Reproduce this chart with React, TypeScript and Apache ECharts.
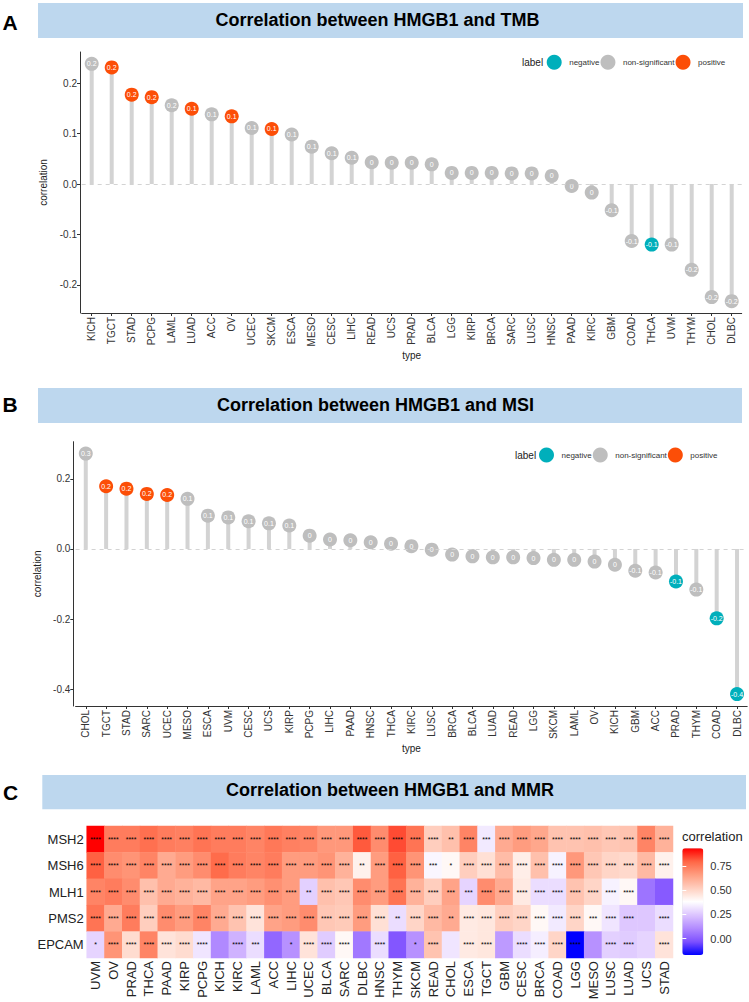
import React, { useEffect, useRef } from 'react';
import * as echarts from 'echarts';

// ---------- Panel A: HMGB1 vs TMB ----------
const tmbTypes = ['KICH','TGCT','STAD','PCPG','LAML','LUAD','ACC','OV','UCEC','SKCM','ESCA','MESO','CESC','LIHC','READ','UCS','PRAD','BLCA','LGG','KIRP','BRCA','SARC','LUSC','HNSC','PAAD','KIRC','GBM','COAD','THCA','UVM','THYM','CHOL','DLBC'];
const tmbValues = [0.238,0.231,0.177,0.172,0.156,0.149,0.138,0.134,0.111,0.109,0.098,0.074,0.061,0.052,0.043,0.042,0.042,0.039,0.022,0.022,0.022,0.021,0.021,0.016,-0.004,-0.017,-0.052,-0.113,-0.12,-0.12,-0.17,-0.224,-0.232];
const tmbGroups = ['non-significant','positive','positive','positive','non-significant','positive','non-significant','positive','non-significant','positive','non-significant','non-significant','non-significant','non-significant','non-significant','non-significant','non-significant','non-significant','non-significant','non-significant','non-significant','non-significant','non-significant','non-significant','non-significant','non-significant','non-significant','non-significant','negative','non-significant','non-significant','non-significant','non-significant'];
const tmbTicks = [-0.2, -0.1, 0, 0.1, 0.2];

// ---------- Panel B: HMGB1 vs MSI ----------
const msiTypes = ['CHOL','TGCT','STAD','SARC','UCEC','MESO','ESCA','UVM','CESC','UCS','KIRP','PCPG','LIHC','PAAD','HNSC','THCA','KIRC','LUSC','BRCA','BLCA','LUAD','READ','LGG','SKCM','LAML','OV','KICH','GBM','ACC','PRAD','THYM','COAD','DLBC'];
const msiValues = [0.272,0.179,0.172,0.157,0.154,0.143,0.095,0.09,0.079,0.073,0.067,0.038,0.027,0.025,0.019,0.015,0.008,-0.002,-0.016,-0.021,-0.024,-0.024,-0.026,-0.031,-0.031,-0.036,-0.045,-0.062,-0.067,-0.093,-0.116,-0.198,-0.414];
const msiGroups = ['non-significant','positive','positive','positive','positive','non-significant','non-significant','non-significant','non-significant','non-significant','non-significant','non-significant','non-significant','non-significant','non-significant','non-significant','non-significant','non-significant','non-significant','non-significant','non-significant','non-significant','non-significant','non-significant','non-significant','non-significant','non-significant','non-significant','non-significant','negative','non-significant','negative','negative'];
const msiTicks = [-0.4, -0.2, 0, 0.2];

const groupNames = ['negative', 'non-significant', 'positive'];
const groupColors: Record<string, string> = { negative: '#00AFBB', 'non-significant': '#BEBEBE', positive: '#FC4E07' };

// ---------- Panel C: HMGB1 vs MMR ----------
const mmrCancers = ['UVM','OV','PRAD','THCA','PAAD','KIRP','PCPG','KICH','KIRC','LAML','ACC','LIHC','UCEC','BLCA','SARC','DLBC','HNSC','THYM','SKCM','READ','CHOL','ESCA','TGCT','GBM','CESC','BRCA','COAD','LGG','MESO','LUSC','LUAD','UCS','STAD'];
const mmrGenes = ['MSH2', 'MSH6', 'MLH1', 'PMS2', 'EPCAM'];
const msh2Corr = [0.93,0.74,0.74,0.77,0.74,0.73,0.76,0.74,0.74,0.72,0.75,0.73,0.72,0.67,0.67,0.81,0.70,0.83,0.76,0.52,0.56,0.72,0.33,0.62,0.66,0.63,0.55,0.55,0.56,0.54,0.55,0.72,0.60];
const msh6Corr = [0.80,0.70,0.68,0.72,0.62,0.66,0.70,0.78,0.74,0.72,0.74,0.66,0.66,0.68,0.60,0.42,0.66,0.80,0.68,0.36,0.40,0.52,0.47,0.57,0.43,0.56,0.35,0.67,0.54,0.50,0.49,0.58,0.42];
const mlh1Corr = [0.72,0.74,0.70,0.56,0.62,0.60,0.58,0.64,0.64,0.66,0.69,0.66,0.27,0.56,0.54,0.70,0.66,0.76,0.60,0.52,0.64,0.28,0.70,0.62,0.44,0.30,0.30,0.55,0.50,0.35,0.40,0.05,-0.01];
const pms2Corr = [0.76,0.62,0.74,0.52,0.70,0.66,0.72,0.62,0.55,0.46,0.64,0.66,0.70,0.54,0.53,0.66,0.47,0.30,0.50,0.58,0.62,0.44,0.45,0.52,0.50,0.40,0.33,0.50,0.40,0.32,0.25,0.25,0.30];
const epcamCorr = [0.28,0.68,0.48,0.72,0.46,0.48,0.32,0.10,0.20,0.30,0.02,0.12,0.46,0.26,0.40,0.06,0.30,-0.02,0.12,0.55,0.32,0.44,0.45,0.14,0.30,0.34,0.50,-0.17,0.12,0.27,0.26,0.28,0.46];
const msh2Stars = ['****','****','****','****','****','****','****','****','****','****','****','****','****','****','****','****','****','****','****','****','**','****','***','****','****','****','****','****','****','****','****','****','****'];
const msh6Stars = ['****','****','****','****','****','****','****','****','****','****','****','****','****','****','****','**','****','****','****','***','*','****','****','****','****','****','****','****','****','****','****','****','****'];
const mlh1Stars = ['****','****','****','****','****','****','****','****','****','****','****','****','**','****','****','****','****','****','****','****','***','***','****','****','****','****','****','****','****','****','****','',''];
const pms2Stars = ['****','****','****','****','****','****','****','****','****','****','****','****','****','****','****','****','****','**','****','****','**','****','****','****','****','****','****','****','***','****','****','','****'];
const epcamStars = ['*','****','****','****','****','****','****','','****','***','','*','****','****','****','','****','','*','****','','****','****','','****','****','****','****','','****','****','','****'];
const corrTicks = [0, 0.25, 0.5, 0.75];
const corrMin = -0.17;
const corrMax = 0.93;

const FONT = '"Liberation Sans", Arial, Helvetica, sans-serif';

function fmtLabel(v: number) {
  const r = Math.round(v * 10) / 10;
  return r === 0 ? '0' : String(r);
}

function lollipopSeries(axisIdx: number, values: number[], groups: string[]) {
  const list: any[] = [
    {
      type: 'bar',
      xAxisIndex: axisIdx,
      yAxisIndex: axisIdx,
      data: values,
      barWidth: 4,
      itemStyle: { color: '#D3D3D3' },
      silent: true,
      z: 1,
      markLine: {
        silent: true,
        symbol: ['none', 'none'],
        label: { show: false },
        lineStyle: { color: '#D3D3D3', type: [4, 4], width: 1 },
        data: [{ yAxis: 0 }],
      },
    },
  ];
  groupNames.forEach((g) => {
    list.push({
      type: 'scatter',
      name: g,
      xAxisIndex: axisIdx,
      yAxisIndex: axisIdx,
      data: values.map((v, i) => (groups[i] === g ? v : '-')),
      symbol: 'circle',
      symbolSize: 14,
      itemStyle: { color: groupColors[g], opacity: 1 },
      z: 3,
      label: {
        show: true,
        position: 'inside',
        color: '#fff',
        fontSize: 7,
        fontFamily: FONT,
        formatter: (p: any) => fmtLabel(p.value),
      },
    });
  });
  return list;
}

export default function App() {
  const ref = useRef<HTMLDivElement>(null);

  useEffect(() => {
    document.body.style.margin = '0';
    const chart = echarts.init(ref.current!, undefined, { renderer: 'svg' });

    const axisLineStyle = { color: '#333', width: 1 };
    const tickLbl = { fontSize: 10, color: '#333', fontFamily: FONT };

    const heatRows = [msh2Corr, msh6Corr, mlh1Corr, pms2Corr, epcamCorr];
    const starRows = [msh2Stars, msh6Stars, mlh1Stars, pms2Stars, epcamStars];
    const heatData: any[] = [];
    heatRows.forEach((row, r) => row.forEach((v, c) => heatData.push([c, r, v])));

    const lolliX = (cats: string[]) => ({
      type: 'category',
      data: cats,
      boundaryGap: true,
      axisLine: { show: true, onZero: false, lineStyle: axisLineStyle },
      axisTick: { show: true, alignWithLabel: true, length: 3, lineStyle: axisLineStyle },
      axisLabel: { rotate: 90, interval: 0, margin: 4, ...tickLbl },
      name: 'type',
      nameLocation: 'middle',
      nameGap: 35,
      nameTextStyle: { fontSize: 10, color: '#222', fontFamily: FONT },
      splitLine: { show: false },
    });
    const lolliY = (min: number, max: number, ticks: number[], offset: number) => ({
      type: 'value',
      min,
      max,
      offset,
      axisLine: { show: true, onZero: false, lineStyle: axisLineStyle },
      axisTick: { show: true, length: 3, customValues: ticks, lineStyle: axisLineStyle },
      axisLabel: { customValues: ticks, margin: 3, formatter: (v: number) => v.toFixed(1), ...tickLbl },
      splitLine: { show: false },
      name: 'correlation',
      nameLocation: 'middle',
      nameGap: 25,
      nameTextStyle: { fontSize: 10, color: '#222', fontFamily: FONT },
    });

    const lollipopLegend = (left: number, top: number) => ({
      left,
      top,
      orient: 'horizontal',
      padding: 0,
      itemWidth: 20,
      itemHeight: 15,
      itemGap: 1,
      icon: 'circle',
      selectedMode: false,
      data: groupNames,
      textStyle: { fontSize: 8, color: '#333', fontFamily: FONT },
    });

    const banner = (x: number, y: number, w: number, h: number) => ({
      type: 'rect',
      shape: { x, y, width: w, height: h },
      style: { fill: '#BDD7EE' },
      silent: true,
      z: 0,
    });
    const txt = (x: number, y: number, text: string, size: number, bold: boolean, align = 'left', color = '#000') => ({
      type: 'text',
      x,
      y,
      silent: true,
      z: 10,
      style: {
        text,
        fill: color,
        font: `${bold ? 'bold ' : ''}${size}px ${FONT}`,
        align,
        textAlign: align,
        verticalAlign: 'middle',
        textVerticalAlign: 'middle',
      },
    });

    const option: any = {
      animation: false,
      textStyle: { fontFamily: FONT },
      grid: [
        { left: 81.7, top: 52, width: 660, height: 261, outerBoundsMode: 'none' },
        { left: 75.6, top: 441.7, width: 671.6, height: 264.3, outerBoundsMode: 'none' },
        { left: 86.7, top: 826, width: 586.3, height: 132, outerBoundsMode: 'none' },
        { left: 682.3, top: 848.3, width: 21, height: 106.7, outerBoundsMode: 'none' },
      ],
      xAxis: [
        { ...lolliX(tmbTypes), gridIndex: 0 },
        { ...lolliX(msiTypes), gridIndex: 1 },
        {
          gridIndex: 2,
          type: 'category',
          data: mmrCancers,
          position: 'bottom',
          axisLine: { show: false },
          axisTick: { show: false },
          axisLabel: { rotate: 90, interval: 0, margin: 3, fontSize: 13, color: '#222', fontFamily: FONT },
          splitLine: { show: false },
          splitArea: { show: false },
        },
        { gridIndex: 3, type: 'value', show: false, min: 0, max: 1 },
      ],
      yAxis: [
        { ...lolliY(-0.2555, 0.2615, tmbTicks, 1.7), gridIndex: 0 },
        { ...lolliY(-0.448, 0.306, msiTicks, 2.3), gridIndex: 1 },
        {
          gridIndex: 2,
          type: 'category',
          data: mmrGenes,
          inverse: true,
          axisLine: { show: false },
          axisTick: { show: false },
          axisLabel: { margin: 3, fontSize: 13, color: '#222', fontFamily: FONT },
          splitLine: { show: false },
          splitArea: { show: false },
        },
        {
          gridIndex: 3,
          type: 'value',
          position: 'right',
          min: corrMin,
          max: corrMax,
          axisLine: { show: false },
          axisTick: { show: true, inside: true, length: 4, customValues: corrTicks, lineStyle: { color: '#fff', width: 1 } },
          axisLabel: { customValues: corrTicks, margin: 7, fontSize: 11, color: '#333', fontFamily: FONT, formatter: (v: number) => v.toFixed(2) },
          splitLine: { show: false },
          z: 10,
        },
        {
          gridIndex: 3,
          type: 'value',
          position: 'left',
          min: corrMin,
          max: corrMax,
          axisLine: { show: false },
          axisTick: { show: true, inside: true, length: 4, customValues: corrTicks, lineStyle: { color: '#fff', width: 1 } },
          axisLabel: { show: false },
          splitLine: { show: false },
          z: 10,
        },
      ],
      legend: [lollipopLegend(546.7, 54.8), lollipopLegend(539, 447.5)],
      visualMap: [
        {
          type: 'continuous',
          min: corrMin,
          max: corrMax,
          dimension: 2,
          seriesIndex: 8,
          orient: 'vertical',
          left: 682.3,
          top: 848.3,
          itemWidth: 21,
          itemHeight: 106.7,
          padding: 0,
          calculable: false,
          showLabel: false,
          hoverLink: false,
          inRange: { color: ['#0000FF', '#7E51FF', '#B28BFF', '#DCC4FF', '#FFFFFF', '#FFCFBF', '#FF9E81', '#FF6746', '#FF0000'] },
        },
      ],
      series: [
        ...lollipopSeries(0, tmbValues, tmbGroups),
        ...lollipopSeries(1, msiValues, msiGroups),
        {
          type: 'heatmap',
          xAxisIndex: 2,
          yAxisIndex: 2,
          data: heatData,
          itemStyle: { borderWidth: 0 },
          emphasis: { disabled: true },
          label: {
            show: true,
            color: '#000',
            fontSize: 7,
            fontFamily: FONT,
            formatter: (p: any) => starRows[p.value[1]][p.value[0]],
          },
        },
      ],
      graphic: [
        banner(38, 3, 705, 35),
        banner(38, 388, 704, 35),
        banner(42.3, 775, 703.7, 34.3),
        txt(2.5, 22.5, 'A', 21, true),
        txt(2.5, 404, 'B', 21, true),
        txt(3, 792.3, 'C', 21, true),
        txt(377.4, 20, 'Correlation between HMGB1 and TMB', 18, true, 'center'),
        txt(375.5, 404.5, 'Correlation between HMGB1 and MSI', 18, true, 'center'),
        txt(390, 790, 'Correlation between HMGB1 and MMR', 18, true, 'center'),
        txt(522, 62.3, 'label', 10, false, 'left', '#222'),
        txt(515, 455, 'label', 10, false, 'left', '#222'),
        txt(682, 836, 'correlation', 13, false, 'left', '#222'),
      ],
    };

    chart.setOption(option);
    return () => chart.dispose();
  }, []);

  return <div ref={ref} style={{ position: 'absolute', left: 0, top: 0, width: 749, height: 1002 }} />;
}
